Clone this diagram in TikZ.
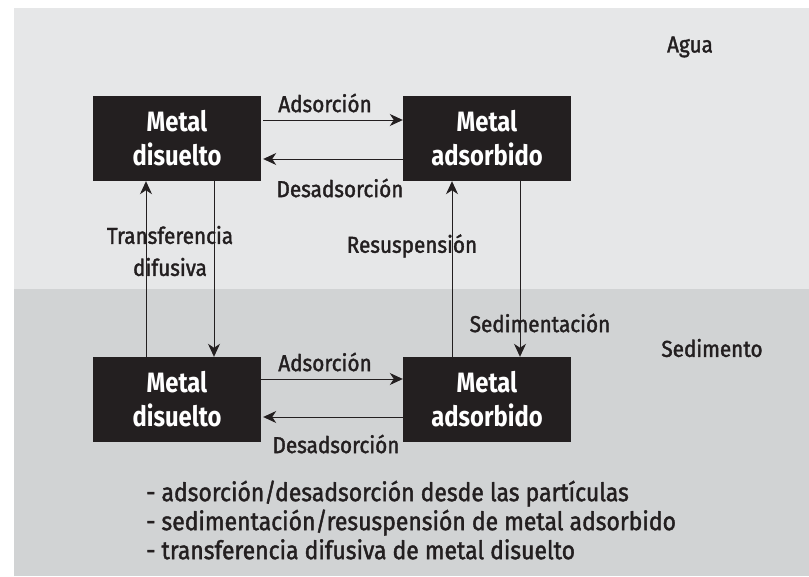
\documentclass[tikz,border=0pt]{standalone}
\usepackage{fontspec}
\setmainfont{Fira Sans}[FakeStretch=0.85]
\newfontfamily\lblfont{Fira Sans}[FakeStretch=0.9, FakeBold=1.6]
\usetikzlibrary{arrows.meta}
\definecolor{agua}{HTML}{E6E7E8}
\definecolor{sedi}{HTML}{D1D3D4}
\definecolor{ink}{HTML}{231F20}
\tikzset{
  box/.style={fill=ink, text=white, minimum width=168pt, minimum height=85pt,
    inner sep=0pt, align=center, font=\fontsize{28}{34}\selectfont\bfseries},
  lbl/.style={text=ink, inner sep=0pt, align=center, font=\lblfont\fontsize{23}{32}\selectfont},
  arr/.style={draw=ink, line width=0.9pt, -{Stealth[length=13pt, width=12pt, inset=4pt]}},
}
\begin{document}
\begin{tikzpicture}[x=1pt, y=-1pt]
\useasboundingbox (0,0) rectangle (809,577);
\fill[white] (0,0) rectangle (809,577);
\fill[agua] (14,8) rectangle (809,289);
\fill[sedi] (14,289) rectangle (809,576);

\node[box] (tl) at (177,138.5) {Metal\\disuelto};
\node[box] (tr) at (487,138.5) {Metal\\adsorbido};
\node[box] (bl) at (177,399.5) {Metal\\disuelto};
\node[box] (br) at (487,399.5) {Metal\\adsorbido};

% horizontal arrows top
\draw[arr] ([shift={(2pt,18.5pt)}]tl.east) -- ([yshift=18.5pt]tr.west);
\draw[arr] ([yshift=-20.5pt]tr.west) -- ([shift={(2pt,-20.5pt)}]tl.east);
% horizontal arrows bottom
\draw[arr] ([yshift=20.5pt]bl.east) -- ([yshift=20.5pt]br.west);
\draw[arr] ([yshift=-17.5pt]br.west) -- ([shift={(2pt,-17.5pt)}]bl.east);
% vertical arrows
\draw[arr] ([xshift=-31pt]bl.north) -- ([xshift=-31pt]tl.south);
\draw[arr] ([xshift=37pt]tl.south) -- ([xshift=37pt]bl.north);
\draw[arr] ([xshift=-35pt]br.north) -- ([xshift=-35pt]tr.south);
\draw[arr] ([xshift=33pt]tr.south) -- ([xshift=33pt]br.north);

\node[lbl] (a1) at (325,103) {Adsorción};
\node[lbl] (d1) at (340,188) {Desadsorción};
\node[lbl] (a2) at (325,362) {Adsorción};
\node[lbl] (d2) at (336,444) {Desadsorción};
\node[lbl] (tf) at (170,251) {Transferencia\\difusiva};
\node[lbl] (rs) at (412,246) {Resuspensión};
\node[lbl] (sd) at (540,323) {Sedimentación};
\node[lbl] (ag) at (690,47) {Agua};
\node[lbl] (se) at (712,348) {Sedimento};

\node[lbl, anchor=west, align=left, font=\lblfont\fontsize{25.5}{29}\selectfont] (list) at (146,520)
  {- adsorción/desadsorción desde las partículas\\
   - sedimentación/resuspensión de metal adsorbido\\
   - transferencia difusiva de metal disuelto};
\end{tikzpicture}
\end{document}
